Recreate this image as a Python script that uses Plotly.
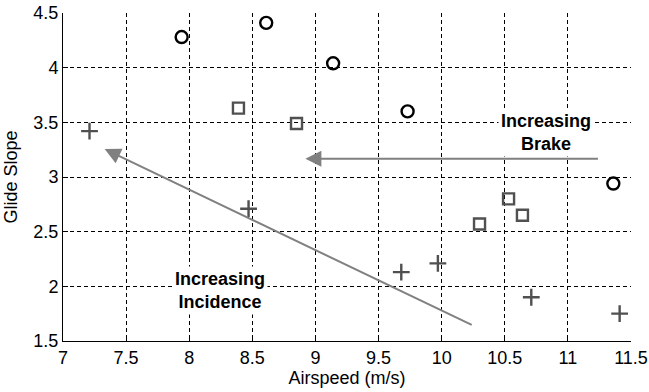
import plotly.graph_objects as go

# Data
circle_x = [7.94, 8.61, 9.14, 9.73, 11.36]
circle_y = [4.28, 4.41, 4.04, 3.60, 2.94]
square_x = [8.39, 8.85, 10.30, 10.53, 10.64]
square_y = [3.63, 3.49, 2.57, 2.80, 2.65]
cross_x = [7.21, 8.47, 9.68, 9.97, 10.71, 11.41]
cross_y = [3.42, 2.71, 2.13, 2.21, 1.90, 1.75]

x_ticks = [7, 7.5, 8, 8.5, 9, 9.5, 10, 10.5, 11, 11.5]
x_ticklabels = ["7", "7.5", "8", "8.5", "9", "9.5", "10", "10.5", "11", "11.5"]
y_ticks = [1.5, 2, 2.5, 3, 3.5, 4, 4.5]
y_ticklabels = ["1.5", "2", "2.5", "3", "3.5", "4", "4.5"]

# Arrows: (tail_x, tail_y, head_x, head_y)
incidence_arrow = (10.25, 1.64, 7.33, 3.255)
brake_arrow = (11.25, 3.168, 8.92, 3.168)
incidence_label = (8.24, 1.96, "<b>Increasing<br>Incidence</b>")
brake_label = (10.83, 3.41, "<b>Increasing<br>Brake</b>")

FONT = "Liberation Sans, Arial, Helvetica, sans-serif"
FS = 18

fig = go.Figure()
fig.add_trace(go.Scatter(
    x=circle_x, y=circle_y, mode="markers",
    marker=dict(symbol="circle-open", size=12, color="black", line=dict(width=2.4, color="black")),
    showlegend=False))
fig.add_trace(go.Scatter(
    x=square_x, y=square_y, mode="markers",
    marker=dict(symbol="square-open", size=11, color="#505050", line=dict(width=2.4, color="#505050")),
    showlegend=False))
fig.add_trace(go.Scatter(
    x=cross_x, y=cross_y, mode="markers",
    marker=dict(symbol="cross-thin-open", size=12, color="#505050", line=dict(width=2.4, color="#505050")),
    showlegend=False))

annotations = []
for (tx, ty, hx, hy) in [incidence_arrow, brake_arrow]:
    annotations.append(dict(
        x=hx, y=hy, ax=tx, ay=ty, xref="x", yref="y", axref="x", ayref="y",
        text="", showarrow=True, arrowhead=2, arrowsize=1.6, arrowwidth=2,
        arrowcolor="#808080", standoff=0, startstandoff=0))
for (lx, ly, txt) in [incidence_label, brake_label]:
    annotations.append(dict(
        x=lx, y=ly, xref="x", yref="y", text=txt, showarrow=False,
        font=dict(family=FONT, size=FS, color="black"), align="center",
        bgcolor="white", borderpad=2))

axis_common = dict(
    showline=True, linecolor="black", linewidth=1,
    ticks="inside", ticklen=5, tickcolor="black", tickwidth=1,
    showgrid=True, gridcolor="black", gridwidth=1, griddash="4px,3px",
    zeroline=False, tickfont=dict(family=FONT, size=FS, color="black"),
    automargin=False,
)

fig.update_layout(
    width=649, height=392,
    margin=dict(l=63, r=18, t=13, b=51),
    paper_bgcolor="white", plot_bgcolor="white",
    font=dict(family=FONT, size=FS, color="black"),
    xaxis=dict(range=[7, 11.5], tickvals=x_ticks, ticktext=x_ticklabels,
               title=dict(text="Airspeed (m/s)", standoff=2, font=dict(family=FONT, size=FS)),
               **axis_common),
    yaxis=dict(range=[1.5, 4.5], tickvals=y_ticks, ticktext=y_ticklabels,
               title=dict(text="Glide Slope", standoff=11, font=dict(family=FONT, size=FS)),
               **axis_common),
    annotations=annotations,
)

fig.write_html("out.html")
